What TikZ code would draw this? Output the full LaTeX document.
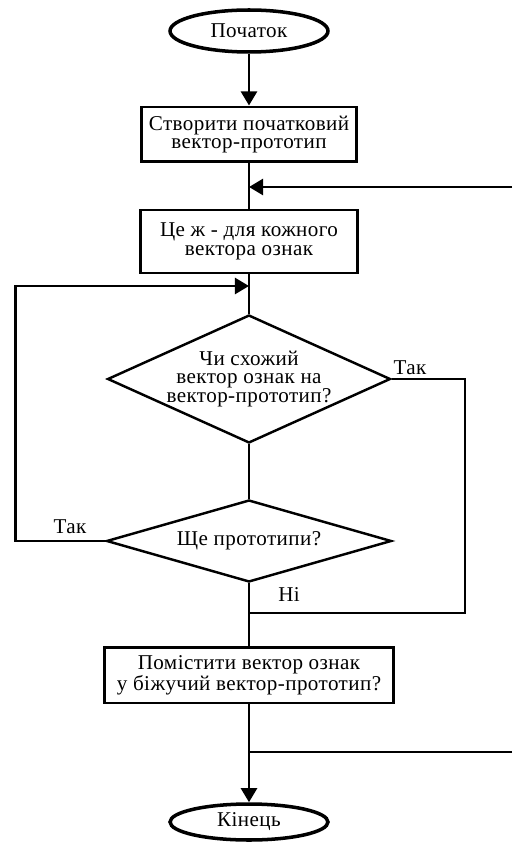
\documentclass[tikz,border=0pt]{standalone}
\usepackage{fontspec}
\setmainfont[LetterSpace=2]{Liberation Serif}
\usepackage{tikz}
\usetikzlibrary{shapes.geometric}
\usetikzlibrary{arrows.meta}
\tikzset{
    term/.style = {ellipse, draw=black, line width=2pt, align=center, minimum width=3.16cm, minimum height=0.84cm, inner sep=0pt},
    proc/.style = {rectangle, draw=black, line width=1.7pt, align=center, inner sep=0pt},
    decision/.style = {diamond, draw=black, line width=1.4pt, inner sep=0pt},
}

\begin{document}
\begin{tikzpicture}[
	x=0.02cm,
	y=-0.02cm,
	font=\rmfamily\fontsize{12}{10.5}\selectfont
]
\tikzset{
    edgem/.style = {line width=1.7pt},
    edget/.style = {line width=1.1pt},
    arr/.style = {line width=1.7pt, -{Triangle[length=8pt,width=9pt]}}
}
\useasboundingbox (0,0) rectangle (512,844);
\node[term] at (249,31) (start) {Початок};
\node[proc, minimum width=4.3cm, minimum height=1.1cm] at (249,134.5) (init) {Створити початковий\\ вектор-прототип};
\node[proc, minimum width=4.36cm, minimum height=1.26cm] at (249,241.5) (each) {Це ж - для кожного\\ вектора ознак};
\node[decision, minimum width=5.66cm, minimum height=2.56cm] at (249,379) (similar) {};
\node[align=center] at (similar) {Чи схожий\\ вектор ознак на\\ вектор-прототип?};
\node[decision, minimum width=5.7cm, minimum height=1.64cm] at (249,541) (more) {};
\node at (more) {Ще прототипи?};
\node[proc, minimum width=5.8cm, minimum height=1.12cm] at (249,675) (place) {Помістити вектор ознак\\ у біжучий вектор-прототип?};
\node[term, minimum height=0.72cm] at (249,822) (stop) {Кінець};
%
\coordinate (inr) at (512,187);
\coordinate (j1) at (249,187);
\coordinate (j2) at (249,286);
\coordinate (j3) at (249,613);
\coordinate (outr) at (512,752);
\coordinate (j4) at (249,752);
%
\draw[arr] (start) -- (init);
\draw[edgem] (init) -- (each);
\draw[arr] (inr) -- (j1);
\draw[edgem] (each) -- (similar);
\draw[edgem] (similar) -- (more);
\draw[edgem] (more) -- (place);
\draw[arr] (place) -- (stop);
%
\draw[edget] (similar.east) -- ++(73,0) |- (j3);
\draw[edgem, -{Triangle[length=8pt,width=9pt]}] (more.west) -- ++(-90,0) |- (j2);
\draw[edget] (outr) -- (j4);
%
\node at (410,368) {Так};
\node at (70,527) {Так};
\node at (289,595) {Ні};
\end{tikzpicture}
\end{document}
